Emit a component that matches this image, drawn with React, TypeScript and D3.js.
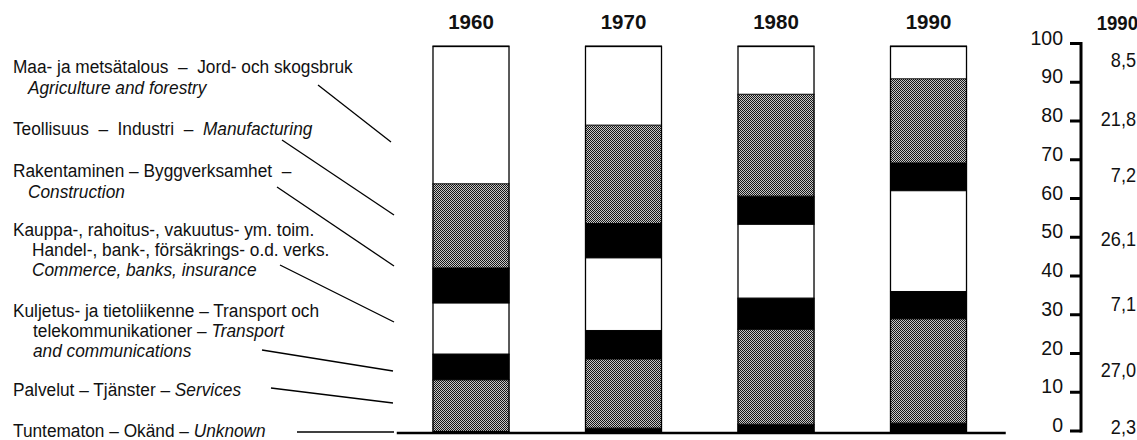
import React from "react";
import * as d3 from "d3";

const years = ["1960", "1970", "1980", "1990"];
const sectorKeys = ["unknown", "services", "transport", "commerce", "construction", "manufacturing", "agriculture"];
const unknown = [0.0, 1.0, 2.0, 2.3];
const services = [13.5, 17.9, 24.6, 27.0];
const transport = [6.7, 7.4, 8.1, 7.1];
const commerce = [13.2, 18.8, 19.1, 26.1];
const construction = [9.1, 8.9, 7.3, 7.2];
const manufacturing = [21.8, 25.5, 26.4, 21.8];
const agriculture = [35.7, 20.5, 12.5, 8.5];
const axisTicks = [0, 10, 20, 30, 40, 50, 60, 70, 80, 90, 100];

// label blocks: each line is [normal part, italic part]
const labelBlocks: [string, string][][] = [
  [
    ["Maa- ja metsätalous  –  Jord- och skogsbruk", ""],
    ["", "Agriculture and forestry"],
  ],
  [["Teollisuus  –  Industri  –  ", "Manufacturing"]],
  [
    ["Rakentaminen – Byggverksamhet  –", ""],
    ["", "Construction"],
  ],
  [
    ["Kauppa-, rahoitus-, vakuutus- ym. toim.", ""],
    ["Handel-, bank-, försäkrings- o.d. verks.", ""],
    ["", "Commerce, banks, insurance"],
  ],
  [
    ["Kuljetus- ja tietoliikenne – Transport och", ""],
    ["telekommunikationer – ", "Transport"],
    ["", "and communications"],
  ],
  [["Palvelut – Tjänster – ", "Services"]],
  [["Tuntematon – Okänd – ", "Unknown"]],
];

const W = 1137;
const H = 440;

export default function App() {
  const table = years.map((y, i) => ({
    year: y,
    unknown: unknown[i],
    services: services[i],
    transport: transport[i],
    commerce: commerce[i],
    construction: construction[i],
    manufacturing: manufacturing[i],
    agriculture: agriculture[i],
  }));
  const stacked = d3.stack<any>().keys(sectorKeys)(table);

  const x = d3.scaleBand<string>().domain(years).range([394.75, 1004.75]).paddingInner(0.495).paddingOuter(0.2475);
  const y = d3.scaleLinear().domain([0, 100]).range([432, 46]);
  const yAxis = d3.scaleLinear().domain([0, 100]).range([431, 43.5]);

  const fills: Record<string, string> = {
    unknown: "#000",
    services: "url(#dither)",
    transport: "#000",
    commerce: "#fff",
    construction: "#000",
    manufacturing: "url(#dither)",
    agriculture: "#fff",
  };

  const locale = d3.formatLocale({ decimal: ",", thousands: " ", grouping: [3], currency: ["", ""] });
  const fmt = locale.format(".1f");

  const lastIdx = years.length - 1;

  // left label layout (per line, in block order)
  const lineX = [13, 28, 13, 13, 28, 13, 32, 32, 13, 33, 33, 13, 13];
  const lineY = [73, 94, 135, 177, 198, 236, 256, 276, 317, 337, 357, 396, 437];
  const leaders: [number, number, number, number][] = [
    [318, 85, 391, 142],
    [282, 140, 394, 215],
    [277, 187, 394, 266],
    [280, 265, 394, 322],
    [262, 350, 393, 371],
    [271, 388, 393, 403],
    [297, 432, 394, 432],
  ];

  const sansFont = "'Liberation Sans', Arial, sans-serif";
  const squeeze = 0.93;
  const labelSqueeze = 0.96;

  let lineCounter = 0;
  const blocks = labelBlocks.map((block) =>
    block.map((ln) => {
      const idx = lineCounter++;
      return { ln, lx: lineX[idx], ly: lineY[idx] };
    })
  );

  return (
    <svg width={W} height={H} viewBox={`0 0 ${W} ${H}`} style={{ position: "absolute", left: 0, top: 0, background: "#fff" }}>
      <defs>
        <pattern id="dither" width="2" height="2" patternUnits="userSpaceOnUse">
          <rect width="2" height="2" fill="#c8c8c8" />
          <rect x="0" y="0" width="1" height="1" fill="#161616" />
          <rect x="1" y="1" width="1" height="1" fill="#161616" />
        </pattern>
      </defs>
      <rect width={W} height={H} fill="#fff" />

      {/* bars */}
      {stacked.map((layer) => (
        <g key={layer.key}>
          {layer.map((d, i) => (
            <rect
              key={i}
              x={x(years[i])}
              width={x.bandwidth()}
              y={y(d[1])}
              height={Math.max(0, y(d[0]) - y(d[1]))}
              fill={fills[layer.key]}
            />
          ))}
        </g>
      ))}
      {/* boundaries between segments */}
      {stacked.map((layer) =>
        layer.map((d, i) => (
          <line
            key={layer.key + i}
            x1={x(years[i])}
            x2={(x(years[i]) as number) + x.bandwidth()}
            y1={y(d[1])}
            y2={y(d[1])}
            stroke="#000"
            strokeWidth={1}
          />
        ))
      )}
      {years.map((yr) => (
        <rect
          key={"o" + yr}
          x={(x(yr) as number) + 0.5}
          y={y(100) + 0.5}
          width={x.bandwidth() - 1}
          height={y(0) - y(100) - 1}
          fill="none"
          stroke="#000"
          strokeWidth={1.3}
        />
      ))}
      {/* baseline */}
      <line x1={x.range()[0] + 2} x2={x.range()[1] + 1} y1={y(0) + 1} y2={y(0) + 1} stroke="#000" strokeWidth={2.5} />

      {/* year headers */}
      {years.map((yr) => (
        <text
          key={"t" + yr}
          x={(x(yr) as number) + x.bandwidth() / 2}
          y={29}
          textAnchor="middle"
          fontFamily={sansFont}
          fontWeight="bold"
          fontSize={20.5}
          fill="#111"
        >
          {yr}
        </text>
      ))}

      {/* right axis */}
      <line x1={1081} x2={1081} y1={yAxis(100) - 1.5} y2={yAxis(0) + 1.5} stroke="#000" strokeWidth={3} />
      {axisTicks.map((t) => (
        <g key={"a" + t}>
          <line x1={1070} x2={1081} y1={yAxis(t)} y2={yAxis(t)} stroke="#000" strokeWidth={3} />
          <text x={1063} y={yAxis(t) + 1} textAnchor="end" fontFamily={sansFont} fontSize={19.5} fill="#111">
            {t}
          </text>
        </g>
      ))}

      {/* right 1990 values */}
      <text
        transform={`translate(1138,30) scale(${squeeze},1)`}
        textAnchor="end"
        fontFamily={sansFont}
        fontWeight="bold"
        fontSize={20}
        fill="#111"
      >
        {years[lastIdx]}
      </text>
      {stacked.map((layer) => {
        const d = layer[lastIdx];
        const mid = (d[0] + d[1]) / 2;
        return (
          <text
            key={"v" + layer.key}
            transform={`translate(1136,${yAxis(mid) + 7}) scale(${squeeze},1)`}
            textAnchor="end"
            fontFamily={sansFont}
            fontSize={19.5}
            fill="#111"
          >
            {fmt(d[1] - d[0])}
          </text>
        );
      })}

      {/* left labels */}
      {blocks.map((block, bi) => (
        <text
          key={"b" + bi}
          transform={`scale(${labelSqueeze},1)`}
          fontFamily={sansFont}
          fontSize={18}
          fill="#111"
          xmlSpace="preserve"
        >
          {block.map((l, li) => (
            <tspan key={li} x={l.lx / labelSqueeze} y={l.ly}>
              {l.ln[0] && <tspan>{l.ln[0]}</tspan>}
              {l.ln[1] && <tspan fontStyle="italic">{l.ln[1]}</tspan>}
            </tspan>
          ))}
        </text>
      ))}
      {leaders.map((l, i) => (
        <line key={"ld" + i} x1={l[0]} y1={l[1]} x2={l[2]} y2={l[3]} stroke="#000" strokeWidth={1.3} />
      ))}
    </svg>
  );
}
